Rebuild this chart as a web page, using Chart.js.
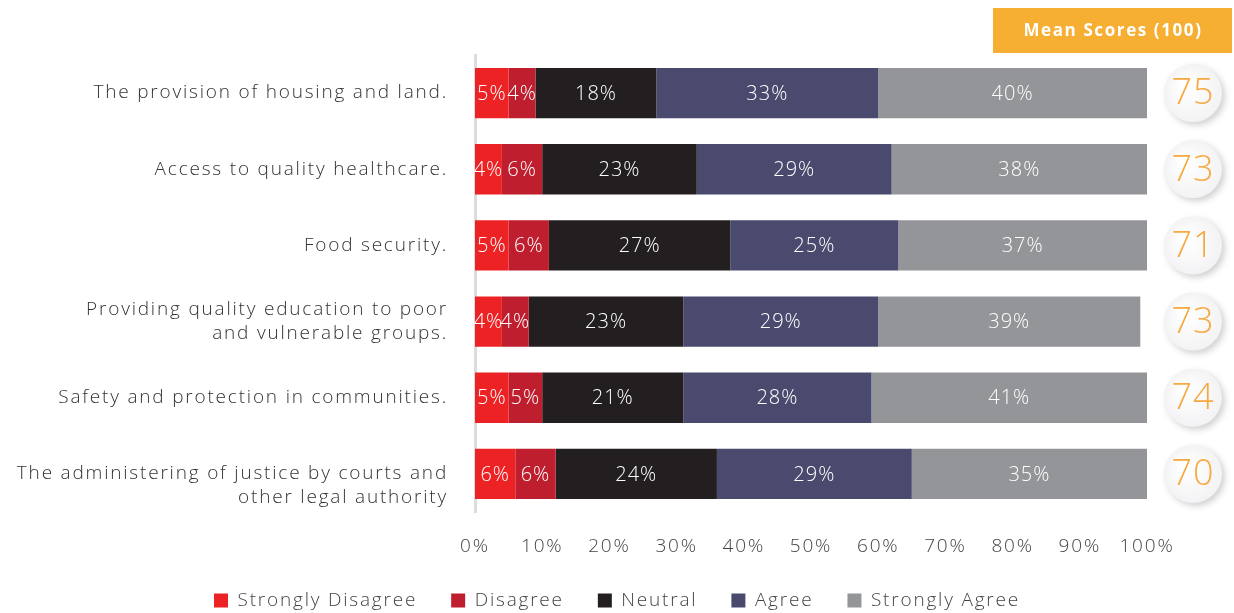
<!DOCTYPE html>
<html>
<head>
<meta charset="utf-8">
<title>Mean Scores</title>
<script src="https://cdn.jsdelivr.net/npm/chart.js@4.4.1/dist/chart.umd.min.js"></script>
<style>
  html, body { margin: 0; padding: 0; background: #fff; }
  #wrap { position: relative; width: 1234px; height: 613px; }
</style>
</head>
<body>
<div id="wrap"><canvas id="chart" width="1234" height="613"></canvas></div>
<script>
var categories = [
  ['The provision of housing and land.'],
  ['Access to quality healthcare.'],
  ['Food security.'],
  ['Providing quality education to poor', 'and vulnerable groups.'],
  ['Safety and protection in communities.'],
  ['', 'The administering of justice by courts and', 'other legal authority']
];
var stronglyDisagree = [5, 4, 5, 4, 5, 6];
var disagree = [4, 6, 6, 4, 5, 6];
var neutral = [18, 23, 27, 23, 21, 24];
var agree = [33, 29, 25, 29, 28, 29];
var stronglyAgree = [40, 38, 37, 39, 41, 35];
var meanScores = [75, 73, 71, 73, 74, 70];
var xTicks = [0, 10, 20, 30, 40, 50, 60, 70, 80, 90, 100];

var FONT = '"Open Sans", Lato, sans-serif';
var SPACING = '1.8px';

// wide tracking for all canvas text (set before measuring and before drawing)
var tracking = {
  id: 'tracking',
  beforeUpdate: function (chart) { chart.ctx.letterSpacing = SPACING; },
  beforeDraw: function (chart) { chart.ctx.letterSpacing = SPACING; }
};

// let the legend use the full canvas width so it stays centred on the page
var fullWidthLegend = {
  id: 'fullWidthLegend',
  afterLayout: function (chart) {
    var lg = chart.legend;
    if (!lg) return;
    lg.left = 0;
    lg.right = chart.width;
    lg.width = chart.width;
  }
};

// white % labels centred inside each segment
var segmentLabels = {
  id: 'segmentLabels',
  afterDatasetsDraw: function (chart) {
    var ctx = chart.ctx;
    ctx.save();
    ctx.fillStyle = '#fff';
    ctx.font = '300 20px ' + FONT;
    ctx.letterSpacing = '1px';
    ctx.textAlign = 'center';
    ctx.textBaseline = 'middle';
    chart.data.datasets.forEach(function (ds, di) {
      chart.getDatasetMeta(di).data.forEach(function (bar, i) {
        ctx.fillText(ds.data[i] + '%', (bar.x + bar.base) / 2, bar.y + 1);
      });
    });
    ctx.restore();
  }
};

// "Mean Scores" header and the round score badges on the right
var meanBadges = {
  id: 'meanBadges',
  afterDraw: function (chart) {
    var ctx = chart.ctx;
    var y = chart.scales.y;
    ctx.save();
    ctx.fillStyle = '#F6AE33';
    ctx.fillRect(993, 8, 239, 45);
    ctx.fillStyle = '#fff';
    ctx.font = 'bold 17px ' + FONT;
    ctx.letterSpacing = '1.6px';
    ctx.textAlign = 'center';
    ctx.textBaseline = 'middle';
    ctx.fillText('Mean Scores (100)', 1113, 31);

    var cx = 1193;
    meanScores.forEach(function (v, i) {
      var cy = y.getPixelForValue(i);
      ctx.save();
      ctx.shadowColor = 'rgba(0,0,0,0.18)';
      ctx.shadowBlur = 6;
      ctx.shadowOffsetX = 3;
      ctx.shadowOffsetY = 3;
      var g = ctx.createRadialGradient(cx - 8, cy - 8, 4, cx, cy, 29);
      g.addColorStop(0, '#ffffff');
      g.addColorStop(1, '#f3f3f5');
      ctx.fillStyle = g;
      ctx.beginPath();
      ctx.arc(cx, cy, 29, 0, Math.PI * 2);
      ctx.fill();
      ctx.restore();
      ctx.fillStyle = '#F7A840';
      ctx.font = '300 36px ' + FONT;
      ctx.letterSpacing = '1px';
      ctx.textAlign = 'center';
      ctx.textBaseline = 'middle';
      ctx.fillText(String(v), cx, cy + 1);
    });
    ctx.restore();
  }
};

function series(label, data, color) {
  return { label: label, data: data, backgroundColor: color, borderWidth: 0 };
}

new Chart(document.getElementById('chart'), {
  type: 'bar',
  data: {
    labels: categories,
    datasets: [
      series('Strongly Disagree', stronglyDisagree, '#ED2224'),
      series('Disagree', disagree, '#BE1E2D'),
      series('Neutral', neutral, '#231F20'),
      series('Agree', agree, '#4A4A6E'),
      series('Strongly Agree', stronglyAgree, '#939598')
    ]
  },
  options: {
    indexAxis: 'y',
    responsive: false,
    animation: false,
    layout: { padding: { top: 55, right: 87, left: 0, bottom: -7 } },
    datasets: { bar: { categoryPercentage: 1, barPercentage: 0.66 } },
    plugins: {
      tooltip: { enabled: false },
      legend: {
        position: 'bottom',
        labels: {
          color: '#444',
          font: { family: FONT, size: 19, weight: 300 },
          boxWidth: 14,
          boxHeight: 14,
          padding: 34
        }
      }
    },
    scales: {
      x: {
        stacked: true,
        min: 0,
        max: 100,
        afterBuildTicks: function (s) {
          s.ticks = xTicks.map(function (v) { return { value: v }; });
        },
        afterFit: function (s) { s.height = 45; },
        grid: { display: false },
        border: { display: false },
        ticks: {
          color: '#444',
          padding: 15,
          font: { family: FONT, size: 19, weight: 300 },
          callback: function (v) { return v + '%'; }
        }
      },
      y: {
        stacked: true,
        afterFit: function (s) { s.width = 475; },
        grid: { display: false },
        border: { display: true, color: '#dcdcdc', width: 3 },
        ticks: {
          color: '#333',
          padding: 19,
          font: { family: FONT, size: 19, weight: 300, lineHeight: 1.25 }
        }
      }
    }
  },
  plugins: [tracking, fullWidthLegend, segmentLabels, meanBadges]
});
</script>
</body>
</html>
